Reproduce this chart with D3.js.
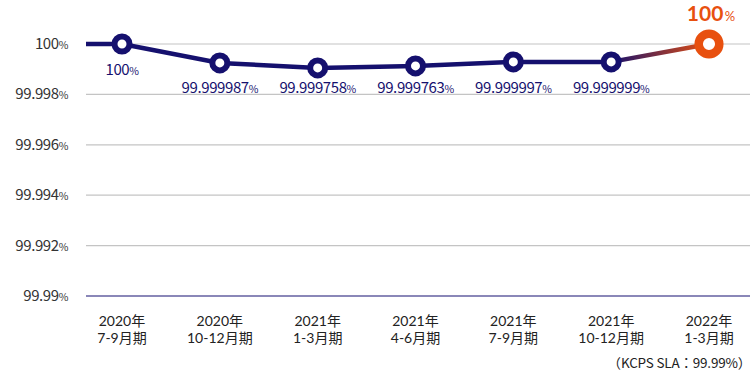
<!DOCTYPE html>
<html><head><meta charset="utf-8">
<script src="https://cdn.jsdelivr.net/npm/d3@7"></script>
<style>body{margin:0;background:#fff}svg{display:block}text{font-family:"Noto Sans CJK JP","Noto Sans",sans-serif}</style>
</head><body><div id="chart"></div>
<script>
const categories = [["2020年","7-9月期"],["2020年","10-12月期"],["2021年","1-3月期"],["2021年","4-6月期"],["2021年","7-9月期"],["2021年","10-12月期"],["2022年","1-3月期"]];
const values = [100, 99.99925, 99.99905, 99.99913, 99.99929, 99.99929, 100];
const valueLabels = ["100","99.999987","99.999758","99.999763","99.999997","99.999999","100"];
const yTicks = [99.99, 99.992, 99.994, 99.996, 99.998, 100];
const yTickLabels = ["99.99","99.992","99.994","99.996","99.998","100"];
const note = "（KCPS SLA：99.99%）";

const W = 754, H = 376;
const svg = d3.select("#chart").append("svg").attr("width", W).attr("height", H);
const navy = "#15106e", orange = "#e8500f";
const x = d3.scalePoint().domain(d3.range(categories.length)).range([122, 709]);
const y = d3.scaleLinear().domain([99.99, 100]).range([296, 44]);

// grid
svg.append("g").selectAll("line").data(yTicks).join("line")
  .attr("x1", 86).attr("x2", 750).attr("y1", d => y(d)).attr("y2", d => y(d))
  .attr("stroke", (d,i) => i === 0 ? "#8a87b8" : "#c4c4c4").attr("stroke-width", (d,i)=> i===0 ? 2 : 1.2);

// y tick labels
const yl = svg.append("g").selectAll("text").data(yTicks).join("text")
  .attr("x", 68).attr("y", d => y(d) + 5).attr("text-anchor", "end")
  .attr("fill", "#333").attr("font-size", 15).attr("letter-spacing", -0.4);
yl.append("tspan").text((d,i) => yTickLabels[i]);
yl.append("tspan").attr("font-size", 10.5).text("%");

// gradient for last segment
const defs = svg.append("defs");
const grad = defs.append("linearGradient").attr("id","g1").attr("gradientUnits","userSpaceOnUse")
  .attr("x1", x(5)).attr("x2", x(6)).attr("y1", y(values[5])).attr("y2", y(values[6]));
grad.append("stop").attr("offset","0%").attr("stop-color", navy);
grad.append("stop").attr("offset","100%").attr("stop-color", orange);

// line
const mainVals = values.slice(0, 6);
svg.append("path")
  .attr("d", d3.line().x((d,i)=>x(i)).y(d=>y(d))(mainVals))
  .attr("fill","none").attr("stroke", navy).attr("stroke-width", 4.5);
svg.append("line").attr("x1", 86).attr("x2", x(0)).attr("y1", y(values[0])).attr("y2", y(values[0]))
  .attr("stroke", navy).attr("stroke-width", 4.5);
svg.append("line").attr("x1", x(5)).attr("x2", x(6)).attr("y1", y(values[5])).attr("y2", y(values[6]))
  .attr("stroke", "url(#g1)").attr("stroke-width", 4.5);

// points
svg.append("g").selectAll("circle").data(values).join("circle")
  .attr("cx", (d,i) => x(i)).attr("cy", d => y(d))
  .attr("r", (d,i) => i === 6 ? 10.3 : 7.5)
  .attr("fill", "#fff").attr("stroke", (d,i) => i === 6 ? orange : navy)
  .attr("stroke-width", (d,i) => i === 6 ? 8.5 : 6);

// value labels
const vl = svg.append("g").selectAll("text").data(mainVals).join("text")
  .attr("x", (d,i) => x(i)).attr("y", (d,i) => i === 0 ? 75 : 93)
  .attr("text-anchor","middle").attr("fill", navy).attr("font-size", 15).attr("letter-spacing", -0.4);
vl.append("tspan").text((d,i) => valueLabels[i]);
vl.append("tspan").attr("font-size", 10.5).text("%");

const topLabel = svg.append("text").attr("x", x(6) + 2).attr("y", 21).attr("text-anchor","middle")
  .attr("fill", orange).attr("font-weight","bold").attr("font-size", 21)
  .style("font-family", "Lato, 'Noto Sans', sans-serif");
topLabel.append("tspan").text(valueLabels[6]);
topLabel.append("tspan").attr("font-size", 13).attr("font-weight","normal").attr("dx", 1.5).text("%");

// x labels (two lines)
const xFont = "Lato, 'Noto Sans CJK JP', sans-serif";
svg.append("g").selectAll("text").data(categories).join("text")
  .attr("x", (d,i)=>x(i)).attr("y", 326)
  .attr("text-anchor","middle").attr("fill","#222").attr("font-size", 14)
  .style("font-family", xFont)
  .text(d => d[0]);
svg.append("g").selectAll("text").data(categories).join("text")
  .attr("x", (d,i)=>x(i)).attr("y", 343)
  .attr("text-anchor","middle").attr("fill","#222").attr("font-size", 14)
  .style("font-family", xFont)
  .text(d => d[1]);

svg.append("text").attr("x", 751).attr("y", 368).attr("text-anchor","end")
  .attr("fill","#222").attr("font-size", 13.5).attr("letter-spacing", -0.2).text(note);
</script></body></html>
